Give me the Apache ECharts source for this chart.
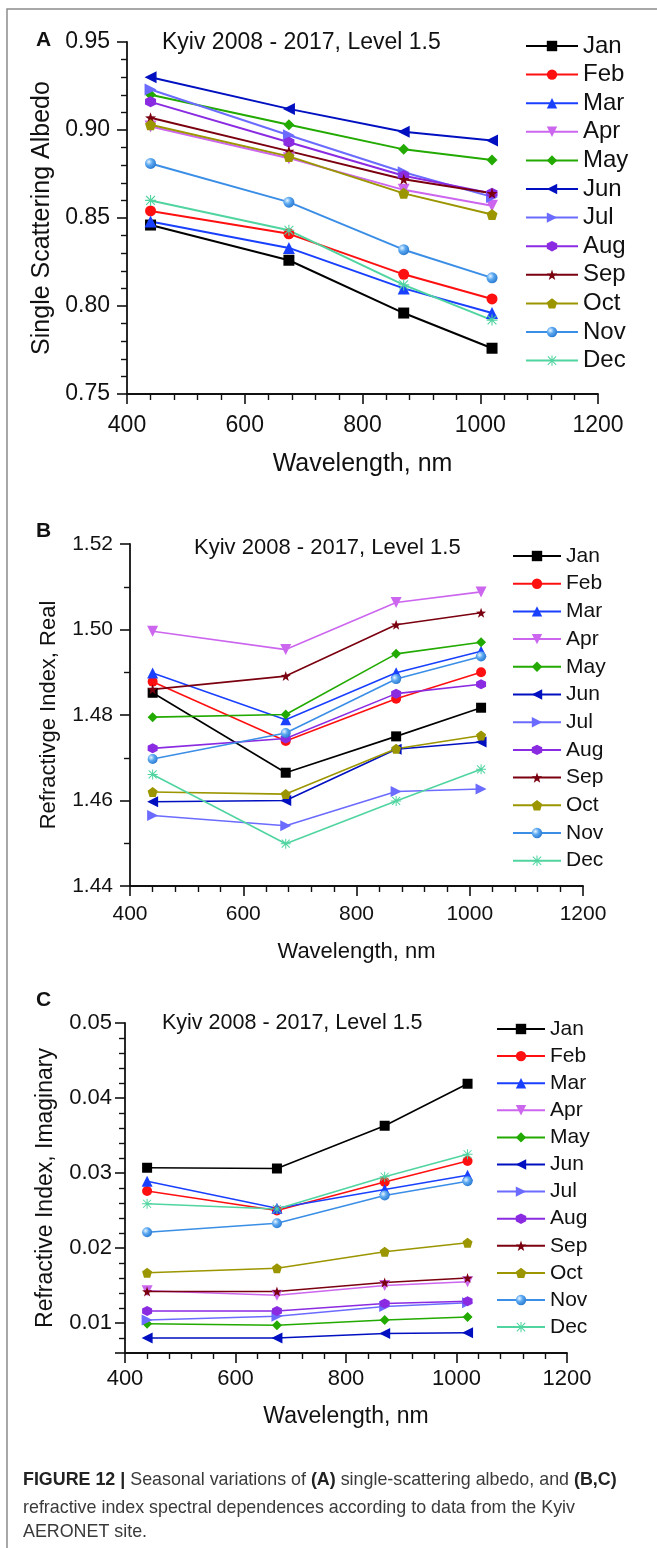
<!DOCTYPE html>
<html>
<head>
<meta charset="utf-8">
<script src="https://cdn.jsdelivr.net/npm/echarts@6/dist/echarts.min.js"></script>
<style>
html,body{margin:0;padding:0;background:#fff;}
#c{width:657px;height:1548px;}
</style>
</head>
<body>
<div id="c"></div>
<script>
// ---- data ----
const wavelengths = [440, 675, 870, 1020];
const months = ['Jan','Feb','Mar','Apr','May','Jun','Jul','Aug','Sep','Oct','Nov','Dec'];
const xTicks = [400, 600, 800, 1000, 1200];

// (A) single scattering albedo, one row per month
const albedo = [
  [0.846, 0.826, 0.796, 0.776],
  [0.854, 0.841, 0.818, 0.804],
  [0.848, 0.833, 0.810, 0.796],
  [0.902, 0.884, 0.866, 0.857],
  [0.920, 0.903, 0.889, 0.883],
  [0.930, 0.912, 0.899, 0.894],
  [0.923, 0.897, 0.876, 0.862],
  [0.916, 0.893, 0.874, 0.864],
  [0.907, 0.888, 0.872, 0.864],
  [0.903, 0.885, 0.864, 0.852],
  [0.881, 0.859, 0.832, 0.816],
  [0.860, 0.843, 0.812, 0.792]
];
// (B) refractive index, real part
const realIndex = [
  [1.4852, 1.4665, 1.4750, 1.4817],
  [1.4878, 1.4739, 1.4838, 1.4900],
  [1.4898, 1.4789, 1.4899, 1.4949],
  [1.4996, 1.4953, 1.5063, 1.5088],
  [1.4795, 1.4801, 1.4943, 1.4970],
  [1.4597, 1.4600, 1.4720, 1.4737],
  [1.4565, 1.4541, 1.4621, 1.4627],
  [1.4722, 1.4745, 1.4850, 1.4872],
  [1.4860, 1.4891, 1.5011, 1.5039],
  [1.4620, 1.4615, 1.4721, 1.4752],
  [1.4697, 1.4758, 1.4884, 1.4937],
  [1.4661, 1.4499, 1.4599, 1.4673]
];
// (C) refractive index, imaginary part
const imagIndex = [
  [0.0307, 0.0306, 0.0363, 0.0419],
  [0.0276, 0.0250, 0.0288, 0.0316],
  [0.0289, 0.0253, 0.0278, 0.0297],
  [0.0143, 0.0137, 0.0150, 0.0155],
  [0.0099, 0.0097, 0.0104, 0.0108],
  [0.0080, 0.0080, 0.0086, 0.0087],
  [0.0104, 0.0109, 0.0122, 0.0127],
  [0.0116, 0.0116, 0.0126, 0.0129],
  [0.0142, 0.0142, 0.0154, 0.0160],
  [0.0167, 0.0173, 0.0195, 0.0207],
  [0.0221, 0.0233, 0.0270, 0.0289],
  [0.0259, 0.0252, 0.0295, 0.0325]
];

const titleText = 'Kyiv 2008 - 2017, Level 1.5';
const xName = 'Wavelength, nm';
const yNames = ['Single Scattering Albedo', 'Refractivge Index, Real', 'Refractive Index, Imaginary'];

// ---- styles ----
const colors = ['#000000','#ff1010','#1a40ff','#cc66ee','#22aa00','#0010c0','#6b6bff','#8a2be2','#7a0010','#9b9600','#3a8ee6','#50d4a0'];
const SYM = {
  down: 'path://M0,0 L10,0 L5,10 Z',
  left: 'path://M10,0 L10,10 L0,5 Z',
  right: 'path://M0,0 L0,10 L10,5 Z',
  hex: 'path://M5,0 L9.33,2.5 L9.33,7.5 L5,10 L0.67,7.5 L0.67,2.5 Z',
  star: 'path://M5,0 L6.176,3.382 L9.755,3.455 L6.902,5.618 L7.939,9.045 L5,7 L2.061,9.045 L3.098,5.618 L0.245,3.455 L3.824,3.382 Z',
  pent: 'path://M5,0 L9.755,3.455 L7.939,9.045 L2.061,9.045 L0.245,3.455 Z',
  ast: 'path://M4.5,0 L5.5,0 L5.5,10 L4.5,10 Z M0,4.5 L10,4.5 L10,5.5 L0,5.5 Z M1.354,0.646 L9.354,8.646 L8.646,9.354 L0.646,1.354 Z M9.354,1.354 L1.354,9.354 L0.646,8.646 L8.646,0.646 Z'
};
const symbols = ['rect','circle','triangle',SYM.down,'diamond',SYM.left,SYM.right,SYM.hex,SYM.star,SYM.pent,'circle',SYM.ast];
const FONT = "'Liberation Sans', Arial, Helvetica, sans-serif";

const panels = [
  {data: albedo, min:0.75, max:0.95, interval:0.05, split:5, grid:{left:127, top:42, width:471, height:352},
   tick:23, name:25, nameGapX:58, nameGapY:71, marginX:20, marginY:17, lw:2, sym:11,
   legend:{left:525, center:46, step:28.6, w:52, font:24}, title:{x:162, y:45, font:23}, letter:{x:36,y:42}},
  {data: realIndex, min:1.44, max:1.52, interval:0.02, split:2, grid:{left:130, top:544, width:453, height:342},
   tick:21, name:22, nameGapX:55, nameGapY:70, marginX:18, marginY:17, lw:1.6, sym:10,
   legend:{left:512, center:556, step:27.7, w:48, font:21}, title:{x:194, y:550, font:22}, letter:{x:36,y:533}},
  {data: imagIndex, min:0.006, max:0.05, interval:null, split:5, grid:{left:125, top:1023, width:442, height:330},
   tick:22, name:23, nameGapX:52, nameGapY:68, marginX:15, marginY:13, lw:1.6, sym:10,
   legend:{left:496, center:1029, step:27.1, w:48, font:21}, title:{x:162, y:1025, font:21.5}, letter:{x:36,y:1002}}
];

const grids = [], xAxes = [], yAxes = [], legends = [], series = [], graphics = [];

panels.forEach((p, pi) => {
  grids.push(Object.assign({containLabel:false}, p.grid));
  xAxes.push({
    type:'value', gridIndex:pi, min:xTicks[0], max:xTicks[xTicks.length-1], interval:200,
    name:xName, nameLocation:'middle', nameGap:p.nameGapX,
    nameTextStyle:{fontSize:p.name, color:'#111', fontFamily:FONT},
    axisLine:{show:true, onZero:false, lineStyle:{color:'#111', width:1.8}},
    axisTick:{show:true, inside:false, length:10, lineStyle:{color:'#111', width:1.6}},
    minorTick:{show:true, splitNumber:5, length:6, lineStyle:{color:'#111', width:1.4}},
    axisLabel:{fontSize:p.tick, color:'#111', margin:p.marginX, fontFamily:FONT, showMinLabel:true, showMaxLabel:true,
      formatter: v => String(Math.round(v))},
    splitLine:{show:false}
  });
  const y = {
    type:'value', gridIndex:pi, min:p.min, max:p.max,
    name:yNames[pi], nameLocation:'middle', nameGap:p.nameGapY, nameRotate:90,
    nameTextStyle:{fontSize:p.name, color:'#111', fontFamily:FONT},
    axisLine:{show:true, onZero:false, lineStyle:{color:'#111', width:1.8}},
    axisTick:{show:true, inside:false, length:10, lineStyle:{color:'#111', width:1.6}},
    minorTick:{show:true, splitNumber:p.split, length:6, lineStyle:{color:'#111', width:1.4}},
    axisLabel:{fontSize:p.tick, color:'#111', margin:p.marginY, fontFamily:FONT,
      formatter: v => (Math.abs(v*100 - Math.round(v*100)) < 1e-6) ? v.toFixed(2) : ''},
    splitLine:{show:false}
  };
  if (p.interval) y.interval = p.interval; else y.splitNumber = 5;
  yAxes.push(y);
  legends.push({
    orient:'vertical', left:p.legend.left, top:p.legend.center - p.legend.font/2,
    itemGap:p.legend.step - p.legend.font,
    itemWidth:p.legend.w, itemHeight:13, padding:0, selectedMode:false,
    data:months.slice(),
    textStyle:{fontSize:p.legend.font, color:'#111', fontFamily:FONT}
  });
  months.forEach((m, mi) => {
    const c = colors[mi];
    const isNov = mi === 10;
    series.push({
      type:'line', name:m, xAxisIndex:pi, yAxisIndex:pi,
      data: wavelengths.map((w, i) => [w, p.data[mi][i]]),
      symbol:symbols[mi], symbolSize: (mi===2||mi===3||mi===5||mi===6) ? p.sym+1 : p.sym,
      showAllSymbol:true, animation:false,
      itemStyle:{color: isNov ? new echarts.graphic.RadialGradient(0.35,0.35,0.7,[{offset:0,color:'#e8f4ff'},{offset:0.45,color:'#5aa8f0'},{offset:1,color:'#2a78d0'}]) : c},
      lineStyle:{color:c, width:p.lw},
      emphasis:{disabled:true}
    });
  });
  graphics.push({type:'text', left:p.title.x, top:p.title.y - p.title.font*0.6, z:100,
    style:{text:titleText, font: p.title.font + 'px ' + FONT, fill:'#111'}});
  graphics.push({type:'text', left:p.letter.x, top:p.letter.y - 12, z:100,
    style:{text:['A','B','C'][pi], font:'bold 21px ' + FONT, fill:'#111'}});
});

const CAPFONT = "'Liberation Sans', Arial, sans-serif";
const capStyle = {font:'19px ' + CAPFONT, fill:'#3a3a3a'};
graphics.push({type:'rect', shape:{x:7, y:9, width:900, height:1800}, style:{fill:'none', stroke:'#8c8c8c', lineWidth:1.5}, z:1});
graphics.push({type:'text', x:23, y:1470, scaleX:0.94, z:100, style:Object.assign({
  text:'{b|FIGURE 12 |} Seasonal variations of {b|(A)} single-scattering albedo, and {b|(B,C)}',
  rich:{b:{fontWeight:'bold', fontSize:19, fontFamily:CAPFONT, fill:'#222'}}}, capStyle)});
graphics.push({type:'text', x:23, y:1498, scaleX:0.94, z:100, style:Object.assign({
  text:'refractive index spectral dependences according to data from the Kyiv'}, capStyle)});
graphics.push({type:'text', x:23, y:1522, scaleX:0.94, z:100, style:Object.assign({
  text:'AERONET site.'}, capStyle)});

const chart = echarts.init(document.getElementById('c'), null, {renderer:'canvas', width:657, height:1548});
chart.setOption({
  backgroundColor:'#ffffff',
  animation:false,
  textStyle:{fontFamily:FONT},
  grid:grids, xAxis:xAxes, yAxis:yAxes, legend:legends, series:series, graphic:graphics
});
</script>
</body>
</html>
